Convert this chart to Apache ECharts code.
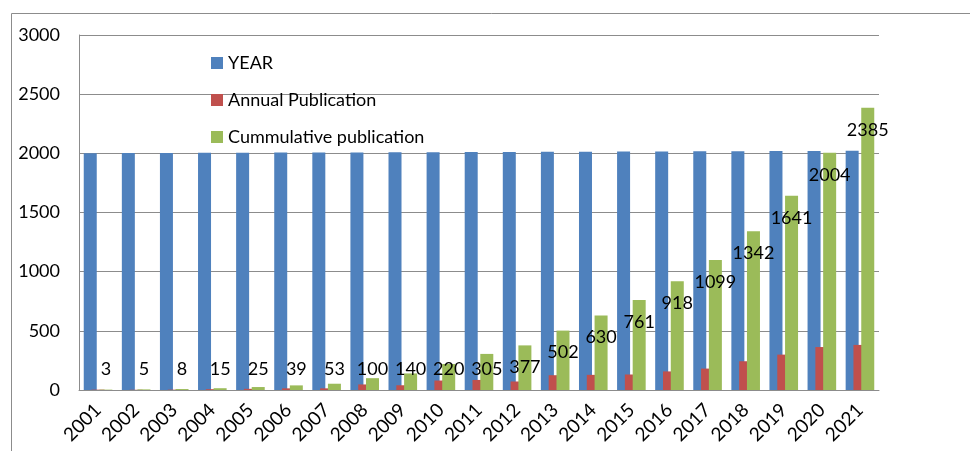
<!DOCTYPE html>
<html><head><meta charset="utf-8">
<script src="https://cdn.jsdelivr.net/npm/echarts@6/dist/echarts.min.js"></script>
<style>html,body{margin:0;padding:0;background:#fff}#c{width:970px;height:451px}</style>
</head><body><div id="c"></div>
<script>
const years = ['2001','2002','2003','2004','2005','2006','2007','2008','2009','2010','2011','2012','2013','2014','2015','2016','2017','2018','2019','2020','2021'];
const yearValues = [2001,2002,2003,2004,2005,2006,2007,2008,2009,2010,2011,2012,2013,2014,2015,2016,2017,2018,2019,2020,2021];
const annual = [3,2,3,7,10,14,14,47,40,80,85,72,125,128,131,157,181,243,299,363,381];
const cumulative = [3,5,8,15,25,39,53,100,140,220,305,377,502,630,761,918,1099,1342,1641,2004,2385];
const yTicks = {min:0, max:3000, interval:500};

const font = 'Lato, "Open Sans", sans-serif';
const smallCut = 340;
const cumData = cumulative.map(v => v < smallCut
  ? {value: v, label: {position: 'insideBottom', distance: 12}}
  : {value: v});

const chart = echarts.init(document.getElementById('c'));
chart.setOption({
  animation: false,
  graphic: [{type:'rect', shape:{x:11.5, y:13.5, width:1000, height:500}, style:{fill:'none', stroke:'#8c8c8c', lineWidth:1}, silent:true, z:-1}],
  grid: {left:79, right:91, top:35, bottom:61, containLabel:false},
  legend: {
    orient:'vertical', left:206, top:49, itemWidth:12, itemHeight:12, itemGap:19,
    icon:'rect', textStyle:{fontFamily:font, fontSize:18, color:'#000'},
    data:['YEAR','Annual Publication','Cummulative publication']
  },
  xAxis: {
    type:'category', data: years,
    axisLine:{lineStyle:{color:'#8c8c8c'}}, axisTick:{show:false},
    axisLabel:{rotate:45, fontFamily:font, fontSize:19, color:'#000', margin:17, interval:0}
  },
  yAxis: {
    type:'value', min:yTicks.min, max:yTicks.max, interval:yTicks.interval,
    axisLine:{show:true, lineStyle:{color:'#8c8c8c'}}, axisTick:{show:false},
    splitLine:{lineStyle:{color:'#8c8c8c'}},
    axisLabel:{fontFamily:font, fontSize:18, color:'#000', margin:19, formatter: v => String(v)}
  },
  series: [
    {name:'YEAR', type:'bar', data: yearValues, barWidth:13, barGap:'-40%', itemStyle:{color:'#4F81BD'}},
    {name:'Annual Publication', type:'bar', data: annual, barWidth:13, barGap:'-40%', itemStyle:{color:'#C0504D'}},
    {name:'Cummulative publication', type:'bar', data: cumData, barWidth:13, barGap:'-40%', itemStyle:{color:'#9BBB59'},
     label:{show:true, position:'insideTop', distance:13, fontFamily:font, fontSize:18, color:'#000'}}
  ]
});
</script></body></html>
